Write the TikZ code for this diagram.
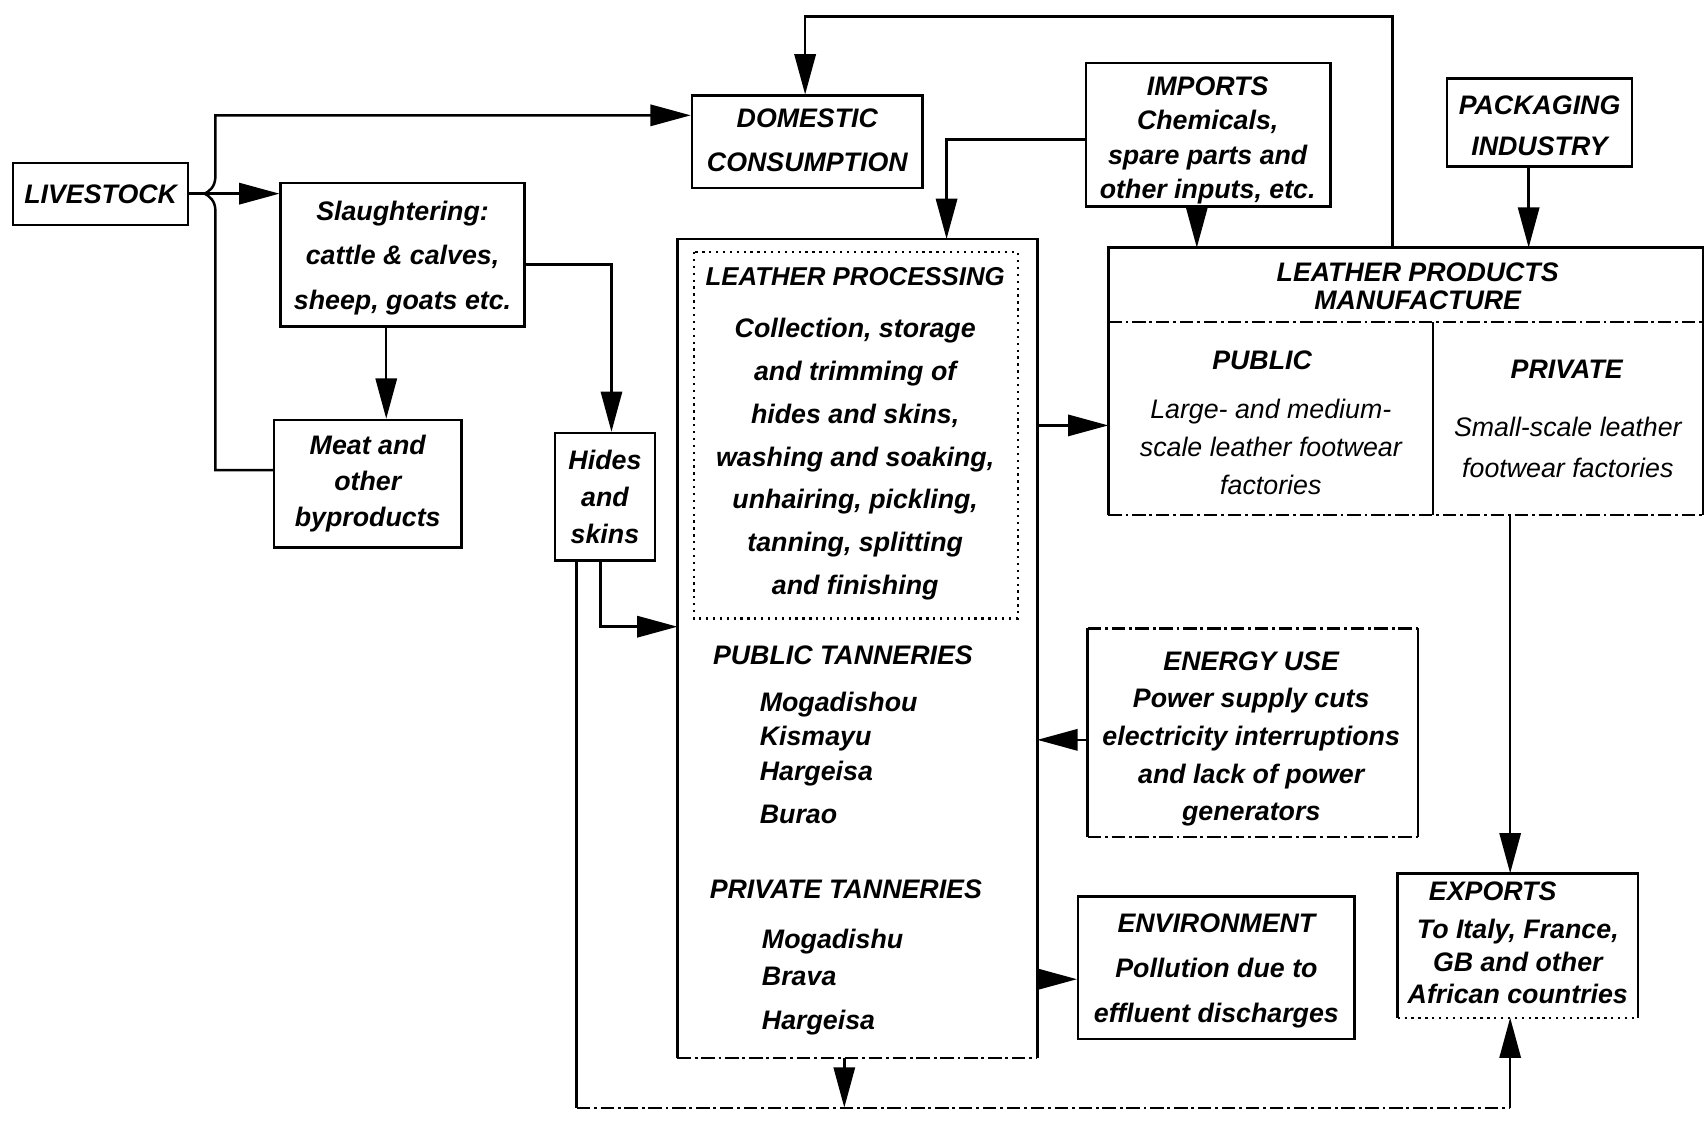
\documentclass[tikz,border=0pt]{standalone}
\usepackage{fontspec}
\setmainfont{Liberation Sans}
\usetikzlibrary{fit,arrows.meta}
\begin{document}
\begin{tikzpicture}[x=0.2mm, y=-0.2mm,
  txt/.style={font=\bfseries\itshape\fontsize{14}{#1}\selectfont, align=center, inner sep=0pt},
  txt/.default=17pt,
  faint/.style={font=\itshape\fontsize{14}{#1}\selectfont, align=center, inner sep=0pt},
  faint/.default=17pt,
  box/.style={draw, line width=1.3pt, inner sep=0pt},
  area/.style={inner sep=0pt},
  edge/.style={line width=1.3pt},
  dashdot/.style={line width=1.1pt, dash pattern=on 7pt off 2pt on 1.5pt off 2pt},
  dotline/.style={line width=1.2pt, dash pattern=on 1.2pt off 2.4pt},
  arr/.style={line width=1.3pt, -{Triangle[length=7.4mm,width=3.9mm]}},
]
\fill[white] (0,0) rectangle (1568,1035);
\useasboundingbox (0,0) rectangle (1568,1035);

% ---------- left column ----------
\node[box, fit={(12,150) (173,207)}] (live) {};
\node[txt] (livet) at (live) {LIVESTOCK};
\node[box, fit={(258,168) (482,300)}] (sl) {};
\node[txt=23.2pt] (slt) at (370,237) {Slaughtering:\\cattle \& calves,\\sheep, goats etc.};
\node[box, fit={(252,386) (424,503)}] (meat) {};
\node[txt=18.7pt] (meatt) at (meat) {Meat and\\other\\byproducts};
\node[box, fit={(510,398) (602,515)}] (hides) {};
\node[txt=19.3pt] (hidest) at (hides) {Hides\\and\\skins};

% ---------- top row ----------
\node[box, fit={(636,88) (848,173)}] (dom) {};
\node[txt=22.7pt] (domt) at (742,129) {DOMESTIC\\CONSUMPTION};
\node[box, fit={(998,58) (1223,190)}] (imp) {};
\node[txt=18.1pt] (impt) at (1110,129) {IMPORTS\\Chemicals,\\spare parts and\\other inputs, etc.};
\node[box, fit={(1330,72) (1500,153)}] (pack) {};
\node[txt=21.5pt] (packt) at (1415,116) {PACKAGING\\INDUSTRY};

% ---------- leather processing / tanneries ----------
\node[area, fit={(623,220) (953,972)}] (proc) {};
\draw[edge] (proc.south west) -- (proc.north west) -- (proc.north east) -- (proc.south east);
\draw[dashdot] (proc.south west) -- (proc.south east);
\node[area, fit={(638,232) (935,568)}] (lp) {};
\draw[dotline] (lp.north west) rectangle (lp.south east);
\node[txt, font=\bfseries\itshape\fontsize{13.5}{16}\selectfont] (lpt) at (786,254) {LEATHER PROCESSING};
\node[txt=22.4pt] (lpb) at (786,422) {Collection, storage\\and trimming of\\hides and skins,\\washing and soaking,\\unhairing, pickling,\\tanning, splitting\\and finishing};

\node[txt, anchor=base west] (pubt) at (655,611) {PUBLIC TANNERIES};
\node[txt, anchor=base west] (pub1) at (698,654) {Mogadishou};
\node[txt, anchor=base west] (pub2) at (698,685) {Kismayu};
\node[txt, anchor=base west] (pub3) at (698,717) {Hargeisa};
\node[txt, anchor=base west] (pub4) at (698,757) {Burao};
\node[txt, anchor=base west] (prvt) at (652,826) {PRIVATE TANNERIES};
\node[txt, anchor=base west] (prv1) at (700,872) {Mogadishu};
\node[txt, anchor=base west] (prv2) at (700,906) {Brava};
\node[txt, anchor=base west] (prv3) at (700,946) {Hargeisa};

% ---------- leather products manufacture ----------
\node[area, fit={(1019,228) (1565,473)}] (lpm) {};
\draw[edge] (lpm.south west) -- (lpm.north west) -- (lpm.north east) -- (lpm.south east);
\draw[dashdot] (lpm.south west) -- (lpm.south east);
\coordinate (lpmdiv) at (1317,296);
\draw[dashdot] (lpm.west |- lpmdiv) -- (lpm.east |- lpmdiv);
\draw[edge] (lpmdiv) -- (lpm.south -| lpmdiv);
\node[txt=14.7pt] (lpmt) at (1303,263) {LEATHER PRODUCTS\\MANUFACTURE};
\node[txt] (pubh) at (1160,331) {PUBLIC};
\node[faint=19.8pt] (pubb) at (1168,411) {Large- and medium-\\scale leather footwear\\factories};
\node[txt] (prvh) at (1440,339) {PRIVATE};
\node[faint=21.5pt] (prvb) at (1441,411) {Small-scale leather\\footwear factories};

% ---------- energy, environment, exports ----------
\node[area, fit={(1000,578) (1303,769)}] (en) {};
\draw[edge] (en.north west) -- (en.south west);
\draw[edge] (en.north east) -- (en.south east);
\draw[dashdot] (en.north west) -- (en.north east);
\draw[dashdot] (en.south west) -- (en.south east);
\node[txt=19.7pt] (ent) at (1150,679) {ENERGY USE\\Power supply cuts\\electricity interruptions\\and lack of power\\generators};

\node[box, fit={(991,824) (1245,955)}] (env) {};
\node[txt=23.5pt] (envt) at (1118,892) {ENVIRONMENT\\Pollution due to\\effluent discharges};

\node[area, fit={(1285,803) (1505,935)}] (exp) {};
\draw[edge] (exp.south west) -- (exp.north west) -- (exp.north east) -- (exp.south east);
\draw[dotline] (exp.south west) -- (exp.south east);
\node[txt, anchor=base west] (expt) at (1313,828) {EXPORTS};
\node[txt=17pt] (expb) at (1395,884) {To Italy, France,\\GB and other\\African countries};

% ---------- connectors ----------
% livestock to slaughtering
\coordinate (l1) at (0,178);
\draw[arr] (live.east |- l1) -- (sl.west |- l1);
% meat and byproducts to domestic consumption, braced over the livestock line
\coordinate (m1) at (198,432);
\coordinate (m2) at (198,106);
\draw[arr] (meat.west |- m1) -- (m1) -- (198,194)
  .. controls (198,184) and (192,180) .. (188,178)
  .. controls (192,176) and (198,172) .. (198,162) -- (m2) -- (dom.west |- m2);
% slaughtering outputs
\coordinate (s1) at (355,0);
\draw[arr] (sl.south -| s1) -- (meat.north -| s1);
\coordinate (s2) at (562,243);
\draw[arr] (sl.east |- s2) -- (s2) -- (hides.north -| s2);
% hides and skins to processing
\coordinate (h1) at (552,576);
\draw[arr] (hides.south -| h1) |- (proc.west |- h1);
% hides and skins exported directly, joined by the tanneries' output
\coordinate (b1) at (530,1018);
\coordinate (b2) at (1388,1018);
\draw[edge] (hides.south -| b1) -- (b1);
\draw[dashdot] (b1) -- (b2);
\draw[arr] (b2) -- (exp.south -| b2);
\coordinate (d1) at (776,1018);
\draw[arr] (proc.south -| d1) -- (d1);
% imports
\coordinate (i1) at (870,128);
\draw[arr] (imp.west |- i1) -- (i1) -- (proc.north -| i1);
\coordinate (i2) at (1100,0);
\draw[arr] (imp.south -| i2) -- (lpm.north -| i2);
% packaging
\coordinate (p1) at (1405,0);
\draw[arr] (pack.south -| p1) -- (lpm.north -| p1);
% manufacture back to domestic consumption
\coordinate (t1) at (1280,15);
\coordinate (t2) at (740,15);
\draw[arr] (lpm.north -| t1) -- (t1) -- (t2) -- (dom.north -| t2);
% processing links on the right
\coordinate (r1) at (0,391);
\draw[arr] (proc.east |- r1) -- (lpm.west |- r1);
\coordinate (r2) at (0,680);
\draw[arr] (en.west |- r2) -- (proc.east |- r2);
\coordinate (r3) at (0,900);
\draw[arr] (proc.east |- r3) -- (env.west |- r3);
% manufacture to exports
\coordinate (e1) at (1388,0);
\draw[arr] (lpm.south -| e1) -- (exp.north -| e1);
\end{tikzpicture}
\end{document}
